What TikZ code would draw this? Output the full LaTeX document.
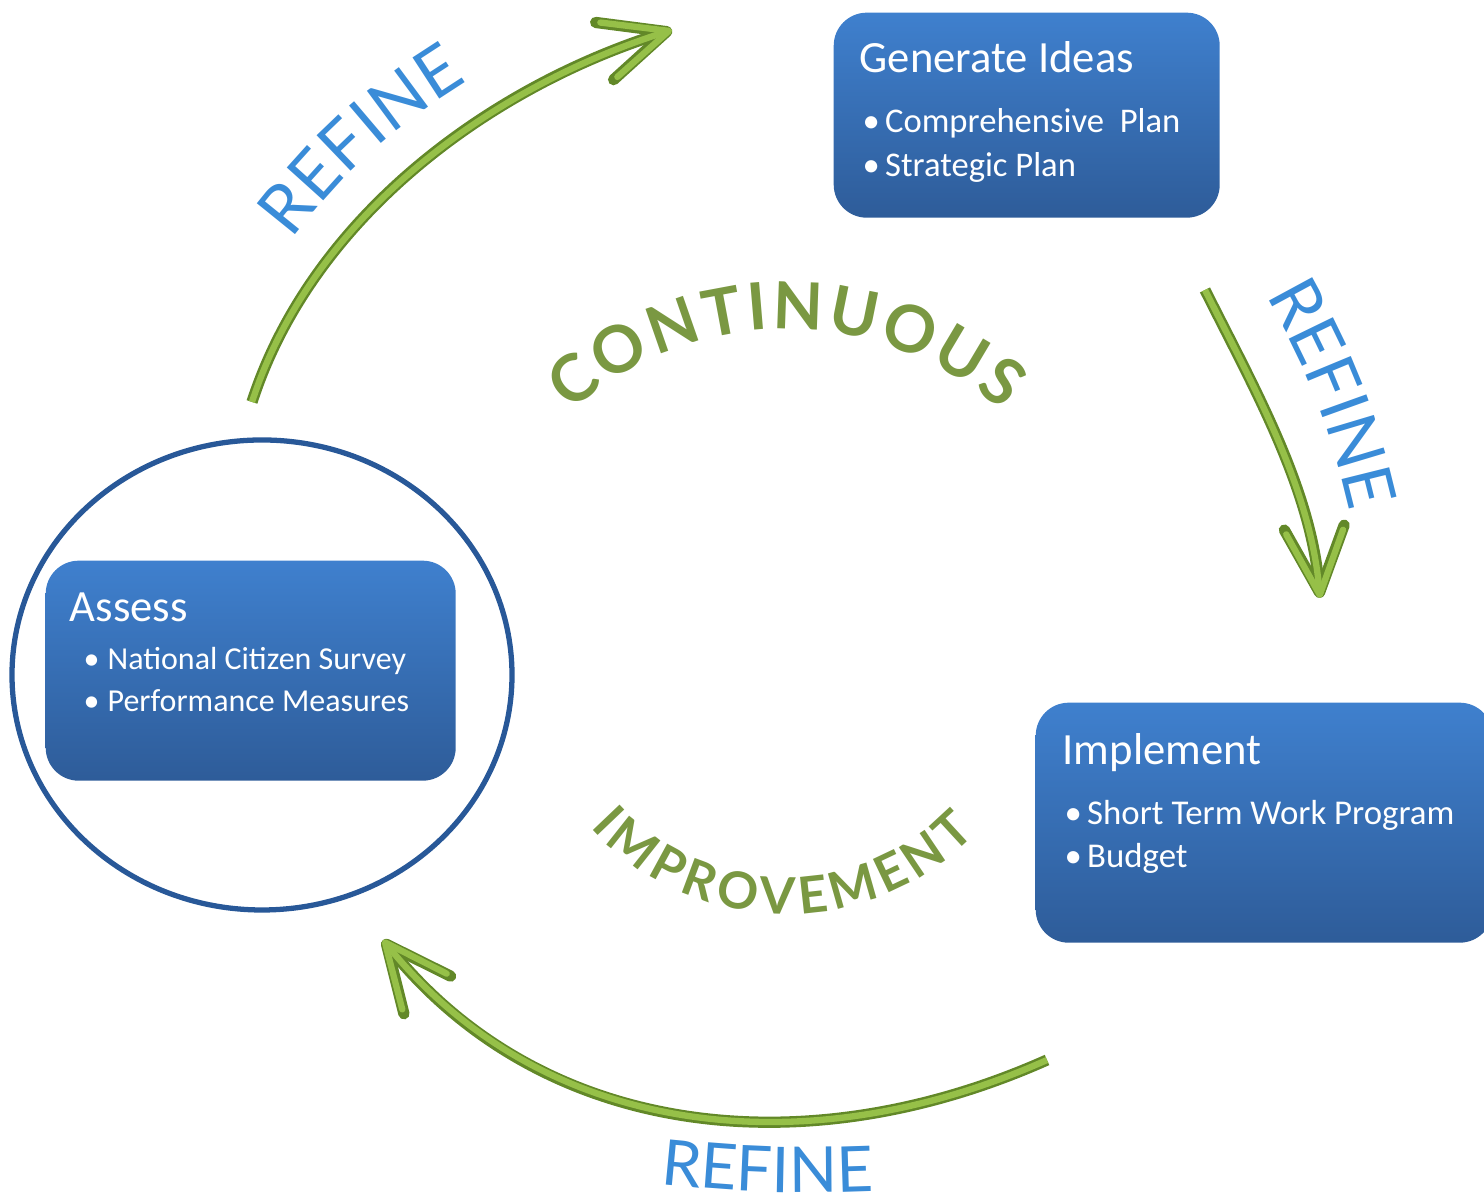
\documentclass[tikz,border=0pt]{standalone}
\usepackage{fontspec}
\setmainfont{Carlito}
\newfontfamily\arcfont{Lato}
\usetikzlibrary{arrows.meta, decorations.text}

\definecolor{boxtop}{RGB}{63,128,206}
\definecolor{boxbot}{RGB}{46,92,153}
\definecolor{ringblue}{RGB}{40,88,152}
\definecolor{pipedark}{RGB}{98,136,40}
\definecolor{pipelight}{RGB}{150,192,72}
\definecolor{refineblue}{RGB}{58,140,216}
\definecolor{wordgreen}{RGB}{122,152,66}

\newcommand{\itm}{\textbullet\kern0.15em}

\tikzset{
  stepbox/.style={rectangle, rounded corners=0.33cm, top color=boxtop, bottom color=boxbot, inner sep=0pt, anchor=north west},
  boxtitle/.style={anchor=base west, text=white, inner sep=0pt, font=\fontsize{12.7}{15}\selectfont},
  boxitem/.style={anchor=base west, text=white, inner sep=0pt, font=\fontsize{#1}{12}\selectfont},
  pipe/.style={line width=3.2pt, draw=pipedark, -{Straight Barb[length=6.5mm, width=6mm, round]},
    postaction={draw=pipelight, line width=1.8pt, -{Straight Barb[length=6.3mm, width=5.7mm, round]}}},
  refineword/.style={decorate, decoration={text along path, text color=refineblue, text align=fit to path,
    text={|\arcfont\fontsize{#1}{#1}\selectfont|REFINE}}},
  arcword/.style 2 args={decorate, decoration={text along path, text color=wordgreen, text align=fit to path,
    text={|\arcfont\bfseries\fontsize{#2}{#2}\selectfont|#1}}},
}

\begin{document}
\begin{tikzpicture}

    % Page size
    \def\W{14.84}
    \def\H{12.02}
    \def\rtop{3.22}   % radius, CONTINUOUS
    \def\rbot{2.63}   % radius, IMPROVEMENT

    \useasboundingbox (0,0) rectangle (\W,\H);
    \clip (0,0) rectangle (\W,\H);

    % Ring round Assess
    \coordinate (ring) at (2.62,5.27);
    \draw[ringblue, line width=1.5pt] (ring) ellipse [x radius=2.50, y radius=2.35];

    % Boxes
    \node[stepbox, minimum width=3.86cm, minimum height=2.05cm] (gen)    at (8.33,11.90) {};
    \node[stepbox, minimum width=4.10cm, minimum height=2.20cm] (assess) at (0.45,6.42) {};
    \node[stepbox, minimum width=4.57cm, minimum height=2.40cm] (impl)   at (10.35,5.00) {};

    \node[boxtitle]      (gentitle) at ([shift={(0.26,-0.61)}]gen.north west) {Generate Ideas};
    \node[boxitem=9.85]  (genone)   at ([shift={(0.29,-1.21)}]gen.north west) {\itm Comprehensive\ \ Plan};
    \node[boxitem=9.85]  (gentwo)   at ([shift={(0.29,-1.65)}]gen.north west) {\itm Strategic Plan};

    \node[boxtitle]      (assesstitle) at ([shift={(0.24,-0.62)}]assess.north west) {Assess};
    \node[boxitem=9.1]   (assessone)   at ([shift={(0.38,-1.10)}]assess.north west) {\itm\kern0.1em National Citizen Survey};
    \node[boxitem=9.1]   (assesstwo)   at ([shift={(0.38,-1.52)}]assess.north west) {\itm\kern0.1em Performance Measures};

    \node[boxtitle]      (impltitle) at ([shift={(0.27,-0.63)}]impl.north west) {Implement};
    \node[boxitem=9.9]   (implone)   at ([shift={(0.29,-1.23)}]impl.north west) {\itm Short Term Work Program};
    \node[boxitem=9.9]   (impltwo)   at ([shift={(0.29,-1.66)}]impl.north west) {\itm Budget};

    % Arrows
    \coordinate (r1s) at (2.52,8.00);
    \coordinate (r1e) at (6.72,11.72);
    \coordinate (r2s) at (12.05,9.12);
    \coordinate (r2e) at (13.20,6.04);
    \coordinate (r3s) at (10.47,1.42);
    \coordinate (r3e) at (3.83,2.62);

    \draw[pipe] (r1s) .. controls (3.12,9.85) and (4.90,11.15) .. (r1e);
    \draw[pipe] (r2s) .. controls (12.54,8.14) and (13.11,7.14) .. (r2e);
    \draw[pipe] (r3s) .. controls (8.00,0.32) and (5.40,0.67) .. (r3e);

    % REFINE, one by each arrow
    \path[refineword=19.5] (2.92,9.62) to[bend left=10] (4.68,11.21);
    \path[refineword=19.5] (12.66,9.06) to[bend left=8] (13.49,6.93);
    \path[refineword=18] (6.60,0.18) to[bend right=4] (8.72,0.11);

    % CONTINUOUS IMPROVEMENT
    \coordinate (O) at (7.86,5.51);
    \path[arcword={CONTINUOUS}{18.5}]  ([shift={(132:\rtop)}]O) arc[start angle=132, end angle=48, radius=\rtop];
    \path[arcword={IMPROVEMENT}{14.5}] ([shift={(222:\rbot)}]O) arc[start angle=222, end angle=316, radius=\rbot];

\end{tikzpicture}
\end{document}
